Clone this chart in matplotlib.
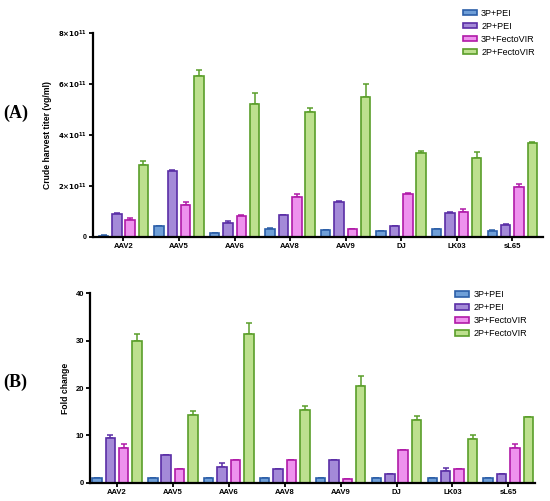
import matplotlib.pyplot as plt
import numpy as np

# ---------------- data ----------------
serotypes = ['AAV2', 'AAV5', 'AAV6', 'AAV8', 'AAV9', 'DJ', 'LK03', 'sL65']
groups = ['3P+PEI', '2P+PEI', '3P+FectoVIR', '2P+FectoVIR']

# (A) crude harvest titer, units of 1e11 vg/ml
titer_3p_pei = [0.05, 0.42, 0.14, 0.33, 0.26, 0.22, 0.31, 0.25]
titer_2p_pei = [0.89, 2.60, 0.55, 0.85, 1.38, 0.43, 0.96, 0.46]
titer_3p_fv = [0.66, 1.27, 0.83, 1.55, 0.30, 1.70, 0.97, 1.97]
titer_2p_fv = [2.82, 6.30, 5.23, 4.92, 5.51, 3.30, 3.10, 3.70]
titer_err_3p_pei = [0.01, 0.02, 0.01, 0.02, 0.02, 0.02, 0.02, 0.02]
titer_err_2p_pei = [0.04, 0.02, 0.08, 0.02, 0.05, 0.02, 0.01, 0.05]
titer_err_3p_fv = [0.10, 0.11, 0.03, 0.12, 0.01, 0.03, 0.13, 0.10]
titer_err_2p_fv = [0.17, 0.24, 0.40, 0.13, 0.49, 0.08, 0.24, 0.04]

# (B) fold change
fold_3p_pei = [1, 1, 1, 1, 1, 1, 1, 1]
fold_2p_pei = [9.4, 5.9, 3.4, 2.9, 4.8, 1.9, 2.5, 1.9]
fold_3p_fv = [7.4, 2.9, 4.8, 4.8, 0.9, 6.9, 2.9, 7.4]
fold_2p_fv = [29.9, 14.4, 31.4, 15.4, 20.4, 13.3, 9.3, 13.9]
fold_err_3p_pei = [0, 0, 0, 0, 0, 0, 0, 0]
fold_err_2p_pei = [0.8, 0.0, 0.9, 0.0, 0.0, 0.0, 0.7, 0.0]
fold_err_3p_fv = [0.8, 0.0, 0.0, 0.0, 0.0, 0.0, 0.0, 0.9]
fold_err_2p_fv = [1.5, 0.8, 2.2, 0.9, 2.2, 0.9, 0.9, 0.0]

faces = ['#6f9fd8', '#a48ad8', '#ee92ee', '#bde08e']
edges = ['#2c5fa8', '#5a2ea6', '#b01aa8', '#5a9e2a']

plt.rcParams['font.family'] = ['Liberation Sans', 'DejaVu Sans']

fig = plt.figure(figsize=(5.5, 5.01), dpi=100)
axA = fig.add_axes([0.169, 0.527, 0.818, 0.407])
axB = fig.add_axes([0.164, 0.036, 0.809, 0.379])


def draw_panel(ax, series, errors, scale):
    x = np.arange(len(serotypes))
    w = 0.17
    step = 0.24
    for i, (vals, errs) in enumerate(zip(series, errors)):
        pos = x + (i - 1.5) * step
        v = np.array(vals) * scale
        e = np.array(errs) * scale
        ax.bar(pos, v, w, color=faces[i], edgecolor=edges[i], linewidth=1.2,
               label=groups[i], zorder=2)
        ax.errorbar(pos, v, yerr=[np.zeros_like(e), e], fmt='none',
                    ecolor=edges[i], elinewidth=1.1, capsize=2.5, capthick=1.1,
                    zorder=1)
    ax.set_xticks(x)
    ax.set_xticklabels(serotypes, fontsize=6.3, fontweight='bold')
    for s in ['top', 'right']:
        ax.spines[s].set_visible(False)
    for s in ['left', 'bottom']:
        ax.spines[s].set_linewidth(1.6)
    ax.tick_params(axis='both', width=1.3, length=3, labelsize=5.5, pad=1.5)
    for lab in ax.get_yticklabels():
        lab.set_fontweight('bold')
    leg = ax.legend(loc='upper right', fontsize=6.5, frameon=False,
                    handlelength=1.5, handleheight=0.55, labelspacing=0.45,
                    handletextpad=0.5)
    return leg


draw_panel(axA, [titer_3p_pei, titer_2p_pei, titer_3p_fv, titer_2p_fv],
           [titer_err_3p_pei, titer_err_2p_pei, titer_err_3p_fv, titer_err_2p_fv], 1e11)
axA.set_xlim(-0.55, 7.55)
axA.set_ylim(0, 8e11)
axA.set_yticks([0, 2e11, 4e11, 6e11, 8e11])
axA.set_yticklabels(['0', r'$\mathbf{2{\times}10^{11}}$', r'$\mathbf{4{\times}10^{11}}$',
                     r'$\mathbf{6{\times}10^{11}}$', r'$\mathbf{8{\times}10^{11}}$'],
                    fontsize=5, fontweight='bold')
axA.set_ylabel('Crude harvest titer (vg/ml)', fontsize=6.2, fontweight='bold', labelpad=4)
axA.legend_.set_bbox_to_anchor((1.0, 1.16))

draw_panel(axB, [fold_3p_pei, fold_2p_pei, fold_3p_fv, fold_2p_fv],
           [fold_err_3p_pei, fold_err_2p_pei, fold_err_3p_fv, fold_err_2p_fv], 1)
axB.set_xlim(-0.48, 7.48)
axB.set_ylim(0, 40)
axB.set_yticks([0, 10, 20, 30, 40])
axB.set_ylabel('Fold change', fontsize=6.2, fontweight='bold', labelpad=4)
axB.legend_.set_bbox_to_anchor((1.0, 1.058))

fig.text(0.028, 0.774, '(A)', fontsize=13, fontweight='bold', family='Liberation Serif',
         ha='center', va='center')
fig.text(0.028, 0.236, '(B)', fontsize=13, fontweight='bold', family='Liberation Serif',
         ha='center', va='center')

fig.savefig('out.png', dpi=100)
